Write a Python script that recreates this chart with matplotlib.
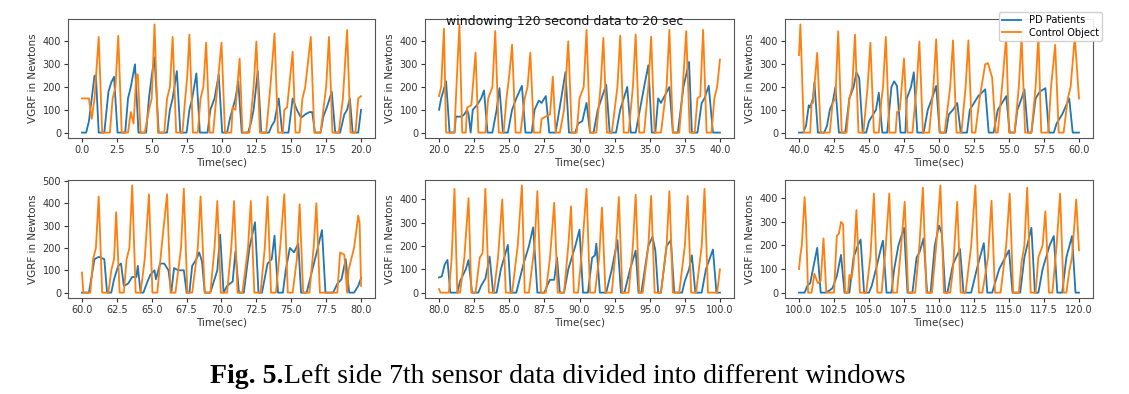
import numpy as np
import matplotlib
matplotlib.use("Agg")
import matplotlib.pyplot as plt

# (time in sec, VGRF in Newtons) key points
# window 1: 0-20 s
pd1 = [(0.0,0),(0.3,0),(0.5,50),(0.7,150),(0.9,250),(1.0,250),(1.2,0),(1.6,0),(1.9,180),(2.1,220),(2.3,245),(2.55,0),(3.1,0),(3.3,150),(3.5,200),(3.8,300),(4.05,0),(4.6,0),(4.8,150),(5.0,250),(5.2,330),(5.5,0),(6.1,0),(6.3,100),(6.5,150),(6.8,270),(7.05,0),(7.5,0),(7.7,100),(7.9,150),(8.2,260),(8.45,0),(9.0,0),(9.2,100),(9.5,150),(9.8,255),(10.05,0),(10.4,0),(10.6,60),(11.0,150),(11.2,225),(11.45,0),(11.9,0),(12.1,40),(12.3,100),(12.6,270),(12.85,0),(13.4,0),(13.6,30),(13.8,50),(14.1,150),(14.35,0),(14.8,0),(15.1,150),(15.4,100),(15.7,65),(16.0,80),(16.3,90),(16.5,90),(16.7,0),(17.1,0),(17.3,70),(17.6,120),(17.9,180),(18.15,0),(18.5,0),(18.8,80),(19.0,100),(19.2,150),(19.4,0),(19.8,0),(20.0,100)]
co1 = [(0.0,150),(0.5,150),(0.7,60),(0.9,150),(1.2,420),(1.45,0),(2.0,0),(2.2,150),(2.4,200),(2.6,425),(2.85,0),(3.3,0),(3.5,90),(3.7,40),(3.9,255),(4.0,255),(4.2,0),(4.5,0),(4.8,100),(5.0,150),(5.2,475),(5.45,0),(5.9,0),(6.1,150),(6.3,200),(6.5,420),(6.75,0),(7.2,0),(7.4,150),(7.55,250),(7.7,430),(7.95,0),(8.3,0),(8.5,150),(8.7,200),(8.9,395),(9.15,0),(9.4,0),(9.7,200),(10.0,395),(10.25,0),(10.7,0),(10.8,110),(11.0,100),(11.3,325),(11.5,0),(12.0,0),(12.3,200),(12.5,400),(12.75,0),(13.2,0),(13.5,200),(13.8,435),(14.05,0),(14.4,0),(14.5,100),(14.7,110),(15.1,355),(15.3,0),(15.6,0),(15.8,150),(16.0,200),(16.4,420),(16.65,0),(17.1,0),(17.5,200),(17.7,420),(17.95,0),(18.4,0),(18.7,150),(19.0,450),(19.25,0),(19.6,0),(19.8,150),(20.0,160)]

# window 2: 20-40 s
pd2 = [(20.0,100),(20.15,150),(20.3,180),(20.5,225),(20.75,0),(21.1,0),(21.2,70),(21.6,70),(21.8,80),(22.0,100),(22.1,80),(22.25,0),(22.4,100),(22.7,120),(23.0,150),(23.2,185),(23.45,0),(23.8,0),(24.1,100),(24.3,195),(24.55,0),(24.9,0),(25.2,100),(25.5,150),(25.9,205),(26.15,0),(26.6,0),(26.8,100),(27.1,140),(27.3,130),(27.6,160),(27.85,0),(28.3,0),(28.7,150),(29.0,265),(29.25,0),(29.7,0),(29.9,40),(30.2,50),(30.5,130),(30.75,0),(31.0,0),(31.3,100),(31.9,210),(32.15,0),(32.6,0),(32.9,100),(33.4,200),(33.65,0),(34.0,0),(34.6,200),(34.9,295),(35.15,0),(35.4,0),(35.6,150),(35.8,130),(36.4,200),(36.65,0),(37.0,0),(37.4,200),(37.8,310),(38.0,0),(38.4,0),(38.7,130),(38.9,150),(39.2,205),(39.5,0),(40.0,0)]
co2 = [(20.0,160),(20.15,200),(20.35,455),(20.5,0),(21.1,0),(21.2,150),(21.45,474),(21.65,0),(21.9,0),(22.0,110),(22.3,120),(22.6,350),(22.8,0),(23.3,0),(23.5,150),(23.8,200),(24.0,445),(24.25,0),(24.6,0),(24.8,150),(25.0,250),(25.2,385),(25.45,0),(25.8,0),(26.1,150),(26.3,200),(26.5,350),(26.75,0),(27.2,0),(27.3,60),(27.6,70),(27.9,80),(28.1,245),(28.3,0),(28.6,0),(28.9,100),(29.0,200),(29.2,400),(29.45,0),(29.8,0),(30.0,150),(30.3,200),(30.5,450),(30.75,0),(31.2,0),(31.5,200),(31.7,415),(31.95,0),(32.3,0),(32.7,200),(32.9,425),(33.15,0),(33.5,0),(33.8,200),(34.0,430),(34.25,0),(34.6,0),(34.9,200),(35.1,420),(35.35,0),(35.8,0),(36.2,200),(36.4,450),(36.65,0),(37.1,0),(37.3,150),(37.6,445),(37.85,0),(38.2,0),(38.4,150),(38.6,160),(38.8,450),(39.05,0),(39.4,0),(39.6,150),(39.8,200),(40.0,320)]

# window 3: 40-60 s
pd3 = [(40.0,0),(40.3,0),(40.5,30),(40.7,120),(40.8,110),(41.0,150),(41.1,220),(41.35,0),(41.8,0),(42.0,30),(42.2,100),(42.4,130),(42.6,200),(42.85,0),(43.3,0),(43.6,150),(43.9,200),(44.1,265),(44.3,240),(44.55,0),(44.8,0),(45.0,50),(45.2,70),(45.5,100),(45.7,175),(45.95,0),(46.3,0),(46.6,200),(46.8,225),(47.0,205),(47.25,0),(47.6,0),(47.7,150),(48.0,200),(48.2,265),(48.45,0),(48.9,0),(49.2,100),(49.5,150),(49.8,205),(50.05,0),(50.5,0),(50.7,80),(51.0,100),(51.3,130),(51.55,0),(52.0,0),(52.2,100),(52.5,130),(52.8,160),(53.3,190),(53.55,0),(53.9,0),(54.2,100),(54.5,130),(54.8,160),(55.05,0),(55.4,0),(55.6,100),(55.9,150),(56.1,190),(56.35,0),(56.6,0),(56.9,150),(57.2,180),(57.6,195),(57.85,0),(58.2,0),(58.4,40),(58.8,80),(59.3,150),(59.55,0),(60.0,0)]
co3 = [(40.0,340),(40.1,475),(40.35,0),(40.8,0),(40.9,130),(41.0,130),(41.3,350),(41.55,0),(42.2,0),(42.4,130),(42.6,150),(42.8,445),(43.05,0),(43.4,0),(43.6,150),(43.8,200),(44.0,430),(44.25,0),(44.6,0),(44.9,200),(45.1,395),(45.35,0),(45.7,0),(45.9,150),(46.0,200),(46.2,420),(46.45,0),(46.9,0),(47.0,90),(47.2,100),(47.5,325),(47.75,0),(48.1,0),(48.4,200),(48.6,400),(48.85,0),(49.3,0),(49.6,200),(49.8,410),(50.05,0),(50.4,0),(50.8,200),(51.0,405),(51.25,0),(51.6,0),(51.9,200),(52.1,405),(52.35,0),(52.6,0),(52.9,150),(53.3,300),(53.5,305),(53.8,240),(54.05,0),(54.2,0),(54.5,200),(54.8,420),(55.0,0),(55.4,0),(55.7,200),(55.9,420),(56.15,0),(56.6,0),(56.9,200),(57.1,425),(57.3,0),(57.8,0),(58.0,200),(58.3,385),(58.55,0),(58.9,0),(59.2,150),(59.4,200),(59.7,420),(60.0,150)]

# window 4: 60-80 s
pd4 = [(60.0,0),(60.5,0),(60.9,150),(61.2,160),(61.6,150),(61.8,0),(62.1,0),(62.3,60),(62.6,120),(62.8,130),(63.0,30),(63.3,40),(63.6,70),(63.9,70),(64.0,120),(64.2,0),(64.4,0),(64.7,50),(64.9,80),(65.2,100),(65.3,60),(65.6,130),(65.9,130),(66.2,100),(66.4,0),(66.6,110),(66.9,100),(67.3,100),(67.5,0),(67.7,0),(67.9,120),(68.2,150),(68.4,180),(68.6,140),(68.8,0),(69.2,0),(69.7,100),(69.9,260),(70.15,0),(70.4,30),(70.8,50),(71.0,185),(71.25,0),(71.6,0),(72.0,200),(72.4,315),(72.65,0),(72.9,0),(73.3,130),(73.6,150),(73.8,255),(74.05,0),(74.4,0),(74.6,100),(74.9,200),(75.2,180),(75.5,220),(75.7,0),(76.1,0),(76.5,100),(76.9,200),(77.2,280),(77.45,0),(78.0,0),(78.3,40),(78.6,60),(78.9,150),(79.15,0),(79.5,0),(79.8,30),(80.0,65)]
co4 = [(60.0,90),(60.1,0),(60.6,0),(60.8,150),(61.0,200),(61.2,430),(61.45,0),(61.9,0),(62.1,100),(62.3,150),(62.45,360),(62.7,0),(63.0,0),(63.2,150),(63.4,200),(63.6,480),(63.85,0),(64.2,0),(64.5,150),(64.8,440),(65.05,0),(65.4,0),(65.7,200),(66.1,440),(66.35,0),(66.7,0),(67.1,200),(67.3,465),(67.55,0),(67.9,0),(68.3,200),(68.5,430),(68.8,0),(69.2,0),(69.5,200),(69.7,410),(69.95,0),(70.4,0),(70.7,200),(70.9,410),(71.15,0),(71.5,0),(71.9,200),(72.1,410),(72.35,0),(72.8,0),(73.1,200),(73.3,430),(73.55,0),(73.9,0),(74.2,200),(74.5,440),(74.75,0),(75.1,0),(75.4,150),(75.6,395),(75.85,0),(76.3,0),(76.6,200),(76.8,400),(77.05,0),(78.3,0),(78.5,180),(78.8,170),(79.0,0),(79.1,100),(79.5,200),(79.8,345),(79.9,310),(80.0,30)]

# window 5: 80-100 s
pd5 = [(80.0,65),(80.2,70),(80.4,120),(80.6,140),(80.8,0),(81.3,0),(81.5,50),(81.9,100),(82.1,140),(82.35,0),(82.8,0),(83.0,30),(83.3,60),(83.6,155),(83.85,0),(84.1,0),(84.4,100),(84.9,205),(85.1,0),(85.5,0),(86.0,120),(86.4,200),(86.7,280),(87.0,0),(87.5,0),(87.7,30),(87.9,55),(88.2,55),(88.4,150),(88.6,0),(88.9,0),(89.2,100),(89.7,200),(90.0,270),(90.25,0),(90.6,0),(90.9,150),(91.1,160),(91.2,210),(91.45,0),(91.9,0),(92.3,100),(92.7,225),(92.95,0),(93.2,0),(93.6,100),(94.0,180),(94.2,0),(94.4,0),(94.9,200),(95.2,240),(95.4,180),(95.6,0),(95.8,0),(96.2,200),(96.5,225),(96.75,0),(97.3,0),(97.5,50),(97.8,100),(98.0,160),(98.25,0),(98.7,0),(99.0,100),(99.5,185),(99.75,0),(100.0,0)]
co5 = [(80.0,15),(80.1,0),(80.7,0),(80.9,150),(81.1,445),(81.3,0),(81.5,0),(81.8,150),(82.1,405),(82.3,0),(82.6,0),(82.9,150),(83.1,170),(83.3,445),(83.55,0),(83.9,0),(84.2,150),(84.5,400),(84.75,0),(85.2,0),(85.6,200),(85.9,460),(86.1,0),(86.4,0),(86.8,200),(87.0,435),(87.25,0),(87.6,0),(87.9,150),(88.2,385),(88.45,0),(88.9,0),(89.2,200),(89.4,370),(89.6,0),(89.9,0),(90.2,200),(90.5,445),(90.75,0),(91.1,0),(91.4,150),(91.6,365),(91.85,0),(92.3,0),(92.6,200),(92.8,410),(93.05,0),(93.5,0),(93.8,200),(94.0,420),(94.25,0),(94.5,0),(94.9,200),(95.1,415),(95.35,0),(95.8,0),(96.2,200),(96.4,435),(96.65,0),(97.1,0),(97.5,200),(97.7,415),(97.95,0),(98.3,0),(98.7,200),(98.9,445),(99.15,0),(99.8,0),(100.0,100)]

# window 6: 100-120 s
pd6 = [(100.0,0),(100.4,0),(100.6,30),(100.8,40),(101.0,100),(101.3,190),(101.55,0),(101.9,0),(102.2,10),(102.4,20),(102.7,70),(103.0,160),(103.25,0),(103.6,0),(103.9,150),(104.2,200),(104.4,225),(104.65,0),(105.0,0),(105.2,30),(105.5,100),(105.9,200),(106.0,220),(106.25,0),(106.6,0),(106.8,100),(107.1,200),(107.5,275),(107.75,0),(108.1,0),(108.4,150),(108.6,170),(108.9,230),(109.15,0),(109.4,0),(109.7,200),(110.0,285),(110.2,250),(110.45,0),(110.6,0),(111.0,120),(111.5,185),(111.75,0),(112.3,0),(112.7,100),(113.2,210),(113.45,0),(113.8,0),(114.3,100),(115.0,180),(115.25,0),(115.8,0),(116.1,150),(116.6,275),(116.85,0),(117.1,0),(117.4,100),(117.9,200),(118.2,240),(118.45,0),(118.8,0),(119.1,150),(119.5,240),(119.75,0),(120.0,0)]
co6 = [(100.0,100),(100.1,160),(100.2,200),(100.4,405),(100.5,300),(100.65,0),(100.9,0),(101.1,80),(101.35,40),(101.55,50),(101.75,230),(101.95,0),(102.5,0),(102.7,240),(102.85,250),(103.0,300),(103.15,290),(103.3,0),(103.5,0),(103.6,75),(103.75,60),(103.9,120),(104.1,350),(104.35,0),(104.8,0),(105.1,150),(105.35,420),(105.6,0),(105.9,0),(106.2,200),(106.45,420),(106.7,0),(107.0,0),(107.3,200),(107.55,385),(107.8,0),(108.3,0),(108.6,200),(108.85,445),(109.1,0),(109.5,0),(109.8,200),(110.1,455),(110.35,0),(110.8,0),(111.0,100),(111.3,385),(111.55,0),(111.9,0),(112.3,200),(112.6,455),(112.85,0),(113.1,0),(113.5,150),(113.75,390),(114.0,0),(114.4,0),(114.8,200),(115.05,420),(115.3,0),(115.7,0),(115.9,130),(116.1,200),(116.3,445),(116.55,0),(116.9,0),(117.1,150),(117.4,200),(117.6,345),(117.85,0),(118.1,0),(118.4,200),(118.65,420),(118.9,0),(119.1,0),(119.3,90),(119.5,150),(119.8,395),(120.0,180)]

pd_windows = [pd1, pd2, pd3, pd4, pd5, pd6]
co_windows = [co1, co2, co3, co4, co5, co6]

fig = plt.figure(figsize=(11.29, 3.94), dpi=100)

W, H = 1129, 394
col_px = [(68, 375), (425, 734), (785, 1093)]
row_px = [(19, 138), (180, 298)]

axes = []
for r, (top, bot) in enumerate(row_px):
    for c, (left, right) in enumerate(col_px):
        ax = fig.add_axes([left / W, 1 - bot / H, (right - left) / W, (bot - top) / H])
        axes.append(ax)

for i, ax in enumerate(axes):
    pd_t, pd_v = np.array(pd_windows[i]).T
    co_t, co_v = np.array(co_windows[i]).T
    l1, = ax.plot(pd_t, pd_v, color='#1f77b4', lw=1.3, label='PD Patients')
    l2, = ax.plot(co_t, co_v, color='#ff7f0e', lw=1.3, label='Control Object')
    ax.set_xlabel('Time(sec)', fontsize=7.5, color='#333333', labelpad=2)
    ax.set_ylabel('VGRF in Newtons', fontsize=7.5, color='#333333', labelpad=3)
    ax.tick_params(labelsize=7, colors='#333333', length=3, pad=2)
    for s in ax.spines.values():
        s.set_color('#555555')
        s.set_linewidth(0.8)

fig.text(565 / W, 1 - 22 / H, 'windowing 120 second data to 20 sec',
         ha='center', va='center', fontsize=9, color='#111111')

fig.legend([l1, l2], ['PD Patients', 'Control Object'], loc='upper right',
           bbox_to_anchor=(1102 / W, 1 - 12 / H), borderaxespad=0,
           fontsize=7, frameon=True, handlelength=2.0, labelspacing=0.3,
           borderpad=0.3, framealpha=0.9, edgecolor='#cccccc')

# caption with bold figure number
fig.canvas.draw()
renderer = fig.canvas.get_renderer()
t1 = fig.text(210 / W, 1 - 383 / H, 'Fig. 5.', fontsize=20, fontweight='bold',
              family='Liberation Serif', ha='left', va='baseline')
bb = t1.get_window_extent(renderer)
fig.text(bb.x1 / W, 1 - 383 / H, 'Left side 7th sensor data divided into different windows',
         fontsize=20, family='Liberation Serif', ha='left', va='baseline')

fig.savefig('out.png', dpi=100)
